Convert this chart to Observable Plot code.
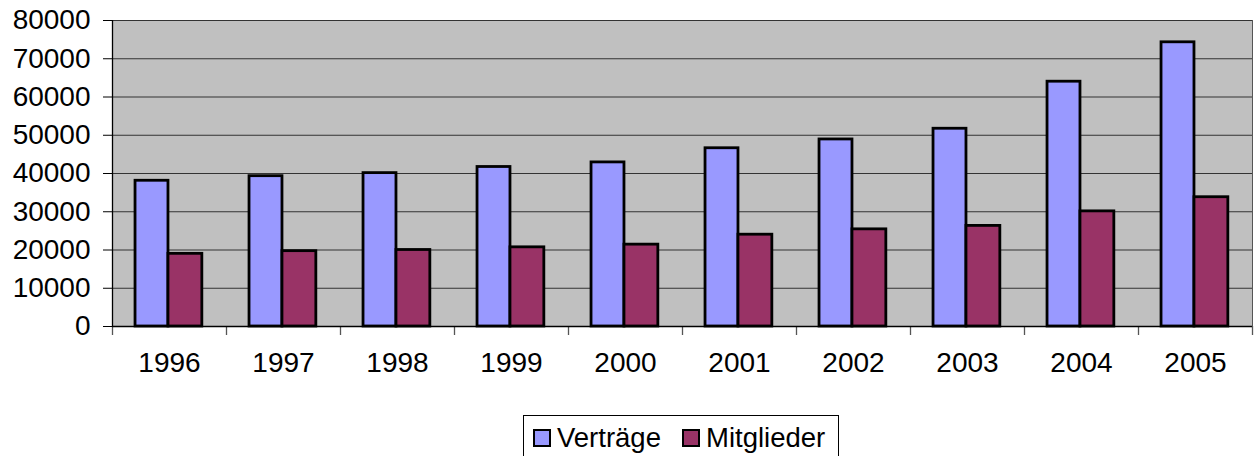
<!DOCTYPE html>
<html>
<head>
<meta charset="utf-8">
<script src="https://cdn.jsdelivr.net/npm/d3@7"></script>
<script src="https://cdn.jsdelivr.net/npm/@observablehq/plot@0.6"></script>
<style>
  html, body { margin: 0; padding: 0; background: #fff; }
  body { position: relative; width: 1255px; height: 456px; overflow: hidden; font-family: "Liberation Sans", Arial, sans-serif; }
  #legend { position: absolute; left: 523px; top: 415px; width: 314px; height: 44px; border: 1px solid #000; background: #fff; font-size: 27.5px; display: flex; align-items: center; color: #000; }
  .item { display: flex; align-items: center; }
  .sw { width: 14px; height: 14px; border: 2.5px solid #000; margin-right: 6px; }
</style>
</head>
<body>
<div id="chart"></div>
<div id="legend"></div>
<script>
const years = ["1996","1997","1998","1999","2000","2001","2002","2003","2004","2005"];
const vertraege = [38100, 39300, 40100, 41700, 42900, 46600, 48900, 51700, 64000, 74300];
const mitglieder = [19000, 19700, 20000, 20700, 21400, 24000, 25400, 26300, 30100, 33800];
const seriesNames = ["Verträge", "Mitglieder"];
const seriesColors = ["#9999ff", "#993366"];
const yTicks = [0, 10000, 20000, 30000, 40000, 50000, 60000, 70000, 80000];

const dataV = years.map((y, i) => ({year: y, value: vertraege[i]}));
const dataM = years.map((y, i) => ({year: y, value: mitglieder[i]}));

const W = 1255, H = 410;
const mL = 112, mR = 3, mT = 20, mB = 84;
const band = (W - mL - mR) / years.length;

const chart = Plot.plot({
  width: W, height: H,
  marginLeft: mL, marginRight: mR, marginTop: mT, marginBottom: mB,
  style: { fontFamily: "Liberation Sans, Arial, sans-serif", fontSize: "28px", background: "#fff", color: "#000" },
  x: { domain: years, padding: 0, label: null },
  y: { domain: [0, 80000], label: null },
  marks: [
    Plot.frame({ fill: "#c0c0c0", stroke: "#555", strokeWidth: 1 }),
    Plot.gridY(yTicks, { stroke: "#333", strokeOpacity: 1, strokeWidth: 1 }),
    Plot.barY(dataV, { x: "year", y: "value", fill: seriesColors[0], stroke: "#000", strokeWidth: 2.8, insetLeft: band * 0.202, insetRight: band * 0.509 }),
    Plot.barY(dataM, { x: "year", y: "value", fill: seriesColors[1], stroke: "#000", strokeWidth: 2.8, insetLeft: band * 0.491, insetRight: band * 0.212 }),
    Plot.ruleX(years, { x: d => d, dx: -band / 2, y1: 0, y2: 0, stroke: "#555", strokeWidth: 1.3, insetBottom: -9 }),
    Plot.ruleX(years.slice(-1), { x: d => d, dx: band / 2, y1: 0, y2: 0, stroke: "#555", strokeWidth: 1.3, insetBottom: -9 }),
    Plot.axisY(yTicks, { tickSize: 9, tickPadding: 13, tickFormat: d => String(d), stroke: "#000", fontSize: 28 }),
    Plot.ruleX([years[0]], { x: d => d, dx: -band / 2, stroke: "#000", strokeWidth: 1.3 }),
    Plot.ruleY([0], { stroke: "#000", strokeWidth: 1.3 }),
    Plot.axisX({ tickSize: 0, tickPadding: 26, fontSize: 28 })
  ]
});
document.getElementById("chart").appendChild(chart);

const legend = document.getElementById("legend");
const gaps = [9, 21];
seriesNames.forEach((name, i) => {
  const item = document.createElement("div");
  item.className = "item";
  item.style.marginLeft = gaps[i] + "px";
  const sw = document.createElement("div");
  sw.className = "sw";
  sw.style.background = seriesColors[i];
  const t = document.createElement("span");
  t.textContent = name;
  item.appendChild(sw);
  item.appendChild(t);
  legend.appendChild(item);
});
</script>
</body>
</html>
